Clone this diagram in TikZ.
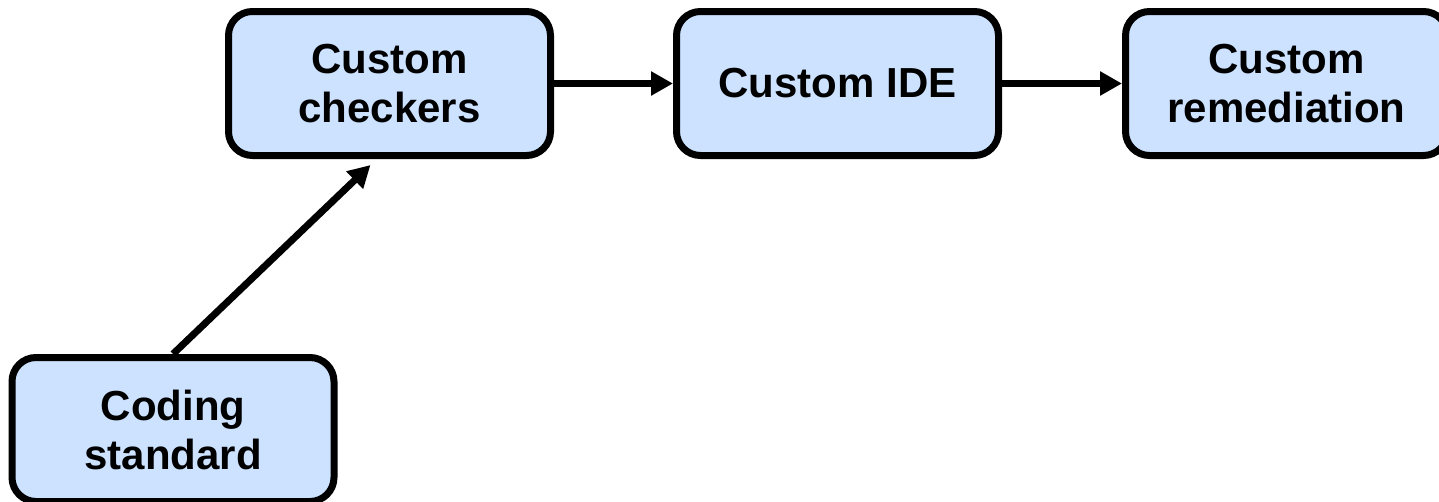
\documentclass[tikz,border=0pt]{standalone}
\usepackage{fontspec}
\setmainfont{Liberation Sans}
\usetikzlibrary{arrows.meta,positioning}
\definecolor{boxblue}{RGB}{204,226,255}
\tikzset{>={Triangle[length=22pt,width=23pt]}, % bold filled arrow heads
node distance=119pt, % gap between two boxes in a row
every node/.style={font=\fontsize{42}{49}\selectfont\bfseries, align=center},
box/.style={draw, line width=7pt, fill=boxblue, rounded corners=24pt, minimum width=322pt, minimum height=144pt, inner sep=0pt}, % sets the properties for each box
link/.style={->, line width=7pt}, % sets the properties for each connector
}

\begin{document}
\begin{tikzpicture}
\clip (0,0) rectangle (1439pt,-501pt);
\node[box] (checkers) at (389.5pt,-83.5pt) {Custom\\checkers};
\node[box, right=of checkers] (ide) {Custom IDE};
\node[box, right=120pt of ide] (remedy) {Custom\\remediation};
\node[box] (coding) at (173pt,-429.5pt) {Coding\\standard};
\coordinate[below left=6pt and 19pt of checkers.south] (chk-in);
\draw[link] (checkers) -- (ide);
\draw[link] (ide) -- (remedy);
\draw[link] (coding.north) -- (chk-in);
\end{tikzpicture}
\end{document}
